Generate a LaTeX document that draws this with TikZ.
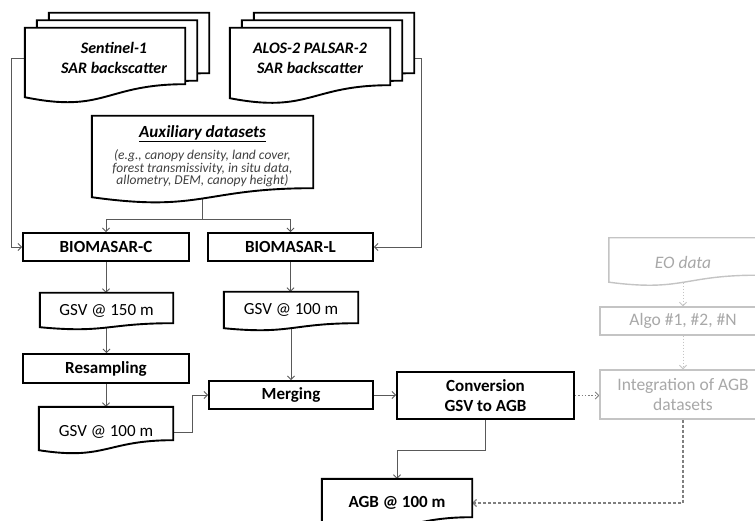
\documentclass[tikz,border=0pt]{standalone}
\usepackage{fontspec}
\setmainfont{Carlito}
\usetikzlibrary{arrows.meta,calc}
\pgfdeclarelayer{bg}\pgfdeclarelayer{mid}\pgfsetlayers{bg,mid,main}
\definecolor{conncol}{HTML}{595959}
\definecolor{lightline}{HTML}{C4C4C4}
\definecolor{lighttext}{HTML}{A8A8A8}
\definecolor{auxtext}{HTML}{404040}
\definecolor{dashcol}{HTML}{7F7F7F}
% outline of a document shape: name, dx, dy, right-corner, left-corner, control offsets, style
\newcommand\docout[7]{%
  \draw[#7] ($(#1.north west)+({#2},{#3})$) -- ($(#1.north east)+({#2},{#3})$)
    -- ($(#1.south east)+({#2},{#3+(#4)})$)
    .. controls ($(#1.south)+({#2},{#3+(#4)})$) and ($(#1.south)+({#2},{#3+(#6)})$)
    .. ($(#1.south west)+({#2},{#3+(#5)})$) -- cycle;}
\begin{document}
\begin{tikzpicture}[x=1pt,y=-1pt,
  box/.style={draw=black,line width=1.9pt,fill=white,inner sep=0pt,align=center,font=\fontsize{17}{20}\selectfont\bfseries},
  docn/.style={inner sep=0pt,align=center,font=\fontsize{17}{20}\selectfont},
  docline/.style={draw=black,line width=1.9pt,fill=white},
  grayline/.style={draw=lightline,line width=1.4pt,fill=white},
  graybox/.style={draw=lightline,line width=1.4pt,fill=white,text=lighttext,inner sep=0pt,align=center,font=\fontsize{17.5}{20}\selectfont},
  conn/.style={draw=conncol,line width=0.8pt},
  arr/.style={conn,-{Straight Barb[length=3.5pt,width=7pt]}},
  dotarr/.style={draw=dashcol,line width=0.9pt,dash pattern=on 1.5pt off 1.8pt,-{Straight Barb[length=3.5pt,width=7pt]}},
  lightarr/.style={draw=lightline,line width=0.8pt,dash pattern=on 1.5pt off 1.5pt,-{Straight Barb[length=3.5pt,width=7pt]}},
  dasharr/.style={draw=dashcol,line width=1.2pt,dash pattern=on 3pt off 2pt,-{Straight Barb[length=3.5pt,width=7pt]}}]
\useasboundingbox (0,0) rectangle (755,521);

% document-shaped nodes
\node[docn,minimum width=160pt,minimum height=60pt,font=\fontsize{16}{20}\selectfont\bfseries\itshape] (sent) at (105,58) {\hspace*{18pt}Sentinel-1\\\hspace*{18pt}SAR backscatter};
\node[docn,minimum width=160pt,minimum height=60pt,font=\fontsize{16}{20}\selectfont\bfseries\itshape] (alos) at (310,58) {ALOS-2 PALSAR-2\\SAR backscatter};
\node[docn,minimum width=221pt,minimum height=80pt,font=\fontsize{13.5}{12.5}\selectfont\itshape,text=auxtext] (aux) at (202.5,156)
  {{\fontsize{17}{20}\selectfont\bfseries\color{black}\underline{Auxiliary datasets}}\\[7pt]
   (e.g., canopy density, land cover,\\forest transmissivity, in situ data,\\allometry, DEM, canopy height)};
\node[docn,minimum width=133pt,minimum height=36pt] (gsva) at (106.5,311) {GSV @ 150 m};
\node[docn,minimum width=134pt,minimum height=36pt] (gsvb) at (291,310) {GSV @ 100 m};
\node[docn,minimum width=134pt,minimum height=50pt] (gsvc) at (106,432) {GSV @ 100 m};
\node[docn,minimum width=148pt,minimum height=48pt,text=lighttext,font=\fontsize{17.5}{20}\selectfont\itshape] (eo) at (683,262) {EO data};
\node[docn,minimum width=150pt,minimum height=48pt,font=\fontsize{17}{20}\selectfont\bfseries] (agb) at (397,503) {AGB @ 100 m};

% boxes
\node[box,minimum width=166pt,minimum height=28pt] (bioc) at (106,247) {BIOMASAR-C};
\node[box,minimum width=165pt,minimum height=28pt] (biol) at (290.5,247) {BIOMASAR-L};
\node[box,minimum width=166pt,minimum height=29pt] (resamp) at (106,368.5) {Resampling};
\node[box,minimum width=164pt,minimum height=28pt] (merg) at (291,395) {Merging};
\node[box,minimum width=177pt,minimum height=47pt] (conv) at (485.5,395.5) {Conversion\\GSV to AGB};
\node[graybox,minimum width=166pt,minimum height=28pt] (algo) at (683,321) {Algo \#1, \#2, \#N};
\node[graybox,minimum width=166pt,minimum height=49pt] (integ) at (683,394.5) {Integration of AGB\\datasets};

% document outlines
\begin{pgfonlayer}{mid}
\docout{sent}{24}{-15}{0}{9}{25}{docline}
\docout{sent}{12}{-7.5}{0}{9}{25}{docline}
\docout{sent}{0}{0}{-4}{9}{25.5}{docline}
\docout{alos}{24}{-15}{0}{9}{25}{docline}
\docout{alos}{12}{-7.5}{0}{9}{25}{docline}
\docout{alos}{0}{0}{-3}{10}{25.5}{docline}
\docout{aux}{0}{0}{-8}{1}{16.5}{docline}
\docout{gsva}{0}{0}{-6}{-2}{4.3}{docline}
\docout{gsvb}{0}{0}{-5}{0}{6.6}{docline}
\docout{gsvc}{0}{0}{-17}{-7}{3.5}{docline}
\docout{eo}{0}{0}{-11}{-4}{5.7}{grayline}
\docout{agb}{0}{0}{-10}{3}{15}{docline}
\end{pgfonlayer}

% connectors
\begin{pgfonlayer}{bg}
\coordinate (split) at (202.5,219);
\draw[arr] (sent.west) -- ++(-13,0) |- (bioc.west);
\draw[arr] (alos.east) -- ++(31,0) |- (biol.east);
\draw[conn] (aux.center) -- (split);
\draw[arr] (split) -| (bioc.north);
\draw[arr] (split) -| (biol.north);
\draw[arr] (bioc.south) -- (bioc.south |- gsva.north);
\draw[arr] (gsva.center) -- (gsva.center |- resamp.north);
\draw[arr] (resamp.south) -- (resamp.south |- gsvc.north);
\draw[arr] (biol.south) -- (biol.south |- gsvb.north);
\draw[arr] (gsvb.center) -- (gsvb.center |- merg.north);
\draw[arr] (gsvc.east) -- ++(19,0) |- (merg.west);
\draw[arr] (merg.east) -- (merg.east -| conv.west);
\draw[dotarr] (conv.east) -- (conv.east -| integ.west);
\draw[lightarr] (eo.center) -- (eo.center |- algo.north);
\draw[lightarr] (algo.south) -- (integ.north);
\draw[dasharr] (integ.south) |- (agb.east);
\draw[arr] (conv.south) -- ++(0,30) -| (agb.north);
\end{pgfonlayer}
\end{tikzpicture}
\end{document}
